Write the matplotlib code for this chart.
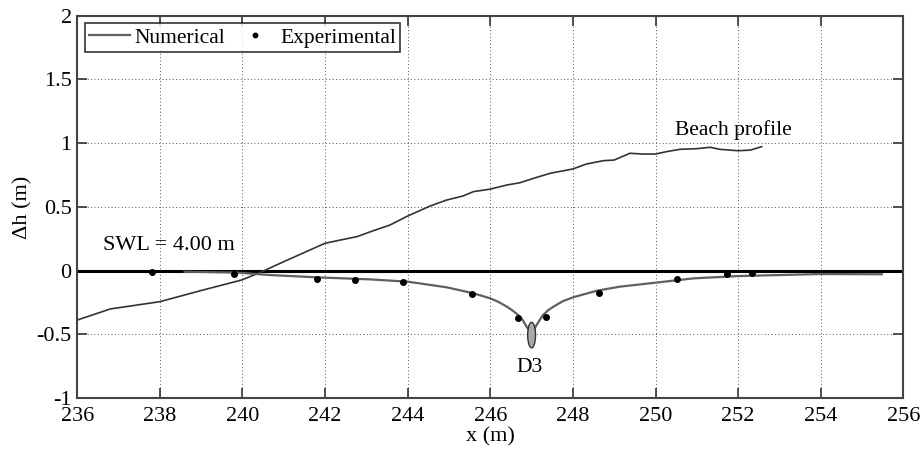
import matplotlib
matplotlib.use("Agg")
import matplotlib.pyplot as plt
from matplotlib.patches import Ellipse

plt.rcParams['font.family'] = ['Liberation Serif', 'DejaVu Serif']
plt.rcParams['axes.unicode_minus'] = False

# Beach profile (bed elevation relative to SWL)
beach_x = [236.0, 236.8, 238.0, 239.05, 239.98, 240.42, 241.0, 241.63, 242.0, 242.36,
           242.77, 243.17, 243.57, 244.0, 244.54, 244.94, 245.34, 245.59, 246.0, 246.4,
           246.72, 247.04, 247.45, 248.0, 248.33, 248.74, 249.0, 249.38, 249.7, 250.0,
           250.27, 250.59, 251.0, 251.32, 251.56, 252.0, 252.3, 252.57]
beach_y = [-0.387, -0.30, -0.243, -0.151, -0.073, -0.015, 0.071, 0.162, 0.215, 0.24,
           0.267, 0.314, 0.358, 0.429, 0.507, 0.554, 0.586, 0.62, 0.64, 0.672,
           0.69, 0.724, 0.764, 0.798, 0.837, 0.863, 0.868, 0.921, 0.915, 0.915,
           0.934, 0.952, 0.957, 0.968, 0.952, 0.941, 0.946, 0.973]

# Numerical drawdown
num_x = [238.6, 239.86, 240.67, 241.8, 243.09, 244.0, 244.94, 245.59, 246.0, 246.2,
         246.4, 246.55, 246.72, 246.8, 246.88, 246.95, 247.0, 247.05, 247.12, 247.2,
         247.28, 247.4, 247.53, 247.75, 248.0, 248.58, 249.14, 250.0, 250.92, 252.0,
         254.0, 255.48]
num_y = [-0.008, -0.015, -0.034, -0.052, -0.068, -0.086, -0.13, -0.177, -0.217, -0.245,
         -0.282, -0.315, -0.36, -0.395, -0.44, -0.47, -0.50, -0.47, -0.426, -0.385,
         -0.347, -0.31, -0.282, -0.24, -0.209, -0.157, -0.125, -0.094, -0.06, -0.042,
         -0.026, -0.028]

# Experimental drawdown
exp_x = [237.8, 239.8, 241.8, 242.72, 243.89, 245.56, 246.66, 247.35, 248.62, 250.51,
         251.72, 252.33]
exp_y = [-0.013, -0.026, -0.065, -0.073, -0.091, -0.183, -0.374, -0.36, -0.177, -0.068,
         -0.026, -0.015]

# Drain D3 position and size
d3_x = 247.0
d3_y = -0.505
d3_w = 0.19
d3_h = 0.2

x_ticks = [236, 238, 240, 242, 244, 246, 248, 250, 252, 254, 256]
y_ticks = [-1, -0.5, 0, 0.5, 1, 1.5, 2]
y_labels = ['-1', '-0.5', '0', '0.5', '1', '1.5', '2']

fig = plt.figure(figsize=(9.21, 4.5), dpi=100)
ax = fig.add_axes([0.0839, 0.1151, 0.8969, 0.85])

ax.set_xlim(236, 256)
ax.set_ylim(-1, 2)
ax.set_xticks(x_ticks)
ax.set_yticks(y_ticks)
ax.set_yticklabels(y_labels)

ax.grid(True, color='#555555', linestyle=(0, (1, 2.5)), linewidth=0.7)
ax.set_axisbelow(True)

ax.axhline(0, color='black', linewidth=2.2, zorder=2)

ax.plot(beach_x, beach_y, color='#333333', linewidth=1.2, zorder=3)
ax.plot(num_x, num_y, color='#606060', linewidth=1.6, zorder=3, label='Numerical')
ax.plot(exp_x, exp_y, linestyle='none', marker='o', markersize=4,
        color='black', zorder=4, label='Experimental')

ax.add_patch(Ellipse((d3_x, d3_y), d3_w, d3_h, facecolor='#aaaaaa',
                     edgecolor='#333333', linewidth=1.0, zorder=5))

ax.text(236.62, 0.2, 'SWL = 4.00 m', fontsize=16, va='center', ha='left')
ax.text(250.47, 1.064, 'Beach profile', fontsize=15.5, va='baseline', ha='left')
ax.text(246.94, -0.76, 'D3', fontsize=15.5, va='center', ha='center')

ax.set_xlabel('x (m)', fontsize=16, labelpad=1)
ax.set_ylabel('Δh (m)', fontsize=16, labelpad=3)

ax.tick_params(axis='both', which='both', direction='in', length=7, width=1.2,
               top=True, right=True, labelsize=16, color='#333333')
ax.tick_params(axis='x', pad=6)
ax.tick_params(axis='y', pad=4)
for sp in ax.spines.values():
    sp.set_color('#444444')
    sp.set_linewidth(1.5)

leg = ax.legend(loc='upper left', ncol=2, fontsize=15.5, frameon=True,
                fancybox=False, edgecolor='black', borderaxespad=0.35,
                handlelength=1.9, handletextpad=0.2, columnspacing=0.45,
                borderpad=0.2, markerscale=0.8)
leg.get_frame().set_linewidth(1.2)

fig.savefig('out.png', dpi=100)
